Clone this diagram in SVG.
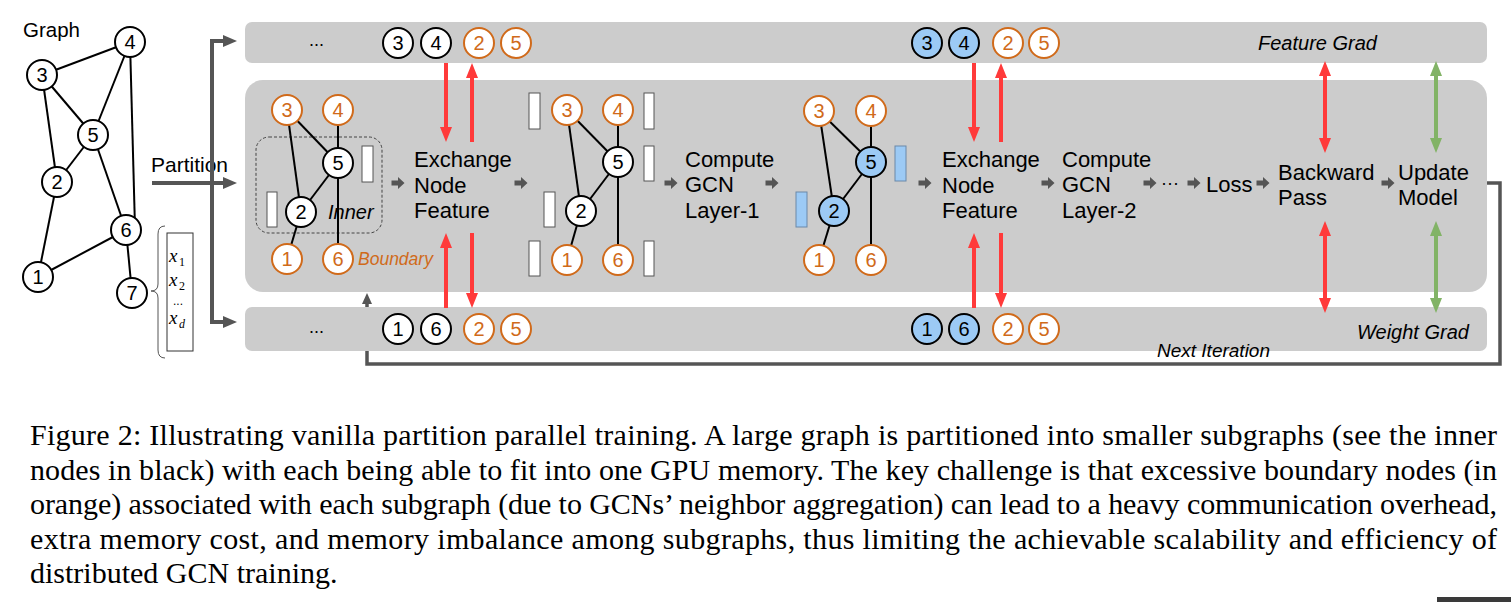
<svg xmlns="http://www.w3.org/2000/svg" width="1511" height="602" viewBox="0 0 1511 602">
<style>
.t{font-family:"Liberation Sans",Arial,sans-serif;fill:#000}
.lbl{font-size:22px}
.it{font-style:italic}
.num{font-family:"Liberation Sans",Arial,sans-serif;font-size:20px;text-anchor:middle}
.nb circle{fill:#fff;stroke:#000;stroke-width:2}
.nb text{fill:#000}
.no circle{fill:#fff;stroke:#d06a1a;stroke-width:2}
.no text{fill:#d06a1a}
.nl circle{fill:#9ccaf5;stroke:#000;stroke-width:2}
.nl text{fill:#000}
.e{stroke:#000;stroke-width:2}
.wr{fill:#fff;stroke:#555;stroke-width:1}
.br{fill:#9ccaf5;stroke:#6a88a8;stroke-width:1}
.bar{fill:#cccccc}
.red{stroke:#ff3a3a;stroke-width:4;fill:none}
.grn{stroke:#82b366;stroke-width:4;fill:none}
.gl{stroke:#555;stroke-width:4;fill:none}
.cap{font-family:"Liberation Serif","Times New Roman",serif;font-size:30px;fill:#000}
.mx{font-family:"Liberation Serif","Times New Roman",serif;font-style:italic;font-size:19px}
.sub{font-family:"Liberation Serif","Times New Roman",serif;font-size:12px}
</style>
<defs>
<marker id="mG" markerUnits="userSpaceOnUse" markerWidth="14" markerHeight="12" refX="4" refY="6" orient="auto"><path d="M0,0 L14,6 L0,12 z" fill="#555"/></marker>
<marker id="mI" markerUnits="userSpaceOnUse" markerWidth="11" markerHeight="10" refX="3" refY="5" orient="auto"><path d="M0,0 L11,5 L0,10 z" fill="#555"/></marker>
<marker id="mR" markerUnits="userSpaceOnUse" markerWidth="15" markerHeight="12" refX="4" refY="6" orient="auto-start-reverse"><path d="M0,0 L15,6 L0,12 z" fill="#ff3a3a"/></marker>
<marker id="mGr" markerUnits="userSpaceOnUse" markerWidth="15" markerHeight="12" refX="4" refY="6" orient="auto-start-reverse"><path d="M0,0 L15,6 L0,12 z" fill="#82b366"/></marker>
<path id="sa" d="M-6.5,-2.5 H0 V-6 L6.5,0 L0,6 V2.5 H-6.5 Z" fill="#555"/>
</defs>

<g id="connectors-loop">
<path d="M1487,183 H1500 V364 H367 V301" stroke="#555" stroke-width="3.5" fill="none" marker-end="url(#mI)"/>
</g>

<g id="feature-grad-bar"><rect class="bar" x="245" y="22" width="1242" height="41" rx="7"/></g>
<g id="main-panel"><rect class="bar" x="245" y="80" width="1242" height="212" rx="18"/></g>
<g id="weight-grad-bar"><rect class="bar" x="245" y="307" width="1242" height="44" rx="7"/></g>

<g id="graph">
<text class="t" x="23" y="37" font-size="20.5">Graph</text>
<g id="graph-edges">
<line class="e" x1="42" y1="75" x2="130" y2="42"/>
<line class="e" x1="42" y1="75" x2="93" y2="135"/>
<line class="e" x1="42" y1="75" x2="57" y2="182"/>
<line class="e" x1="130" y1="42" x2="93" y2="135"/>
<line class="e" x1="130" y1="42" x2="135" y2="228"/>
<line class="e" x1="93" y1="135" x2="57" y2="182"/>
<line class="e" x1="93" y1="135" x2="126" y2="230"/>
<line class="e" x1="57" y1="182" x2="38" y2="277"/>
<line class="e" x1="38" y1="277" x2="126" y2="230"/>
<line class="e" x1="126" y1="230" x2="132" y2="293"/>
</g>
<g id="g-n4" class="nb"><circle cx="130" cy="42" r="15"/><text class="num" x="130" y="49">4</text></g>
<g id="g-n3" class="nb"><circle cx="42" cy="75" r="15"/><text class="num" x="42" y="82">3</text></g>
<g id="g-n5" class="nb"><circle cx="93" cy="135" r="15"/><text class="num" x="93" y="142">5</text></g>
<g id="g-n2" class="nb"><circle cx="57" cy="182" r="15"/><text class="num" x="57" y="189">2</text></g>
<g id="g-n6" class="nb"><circle cx="126" cy="230" r="15"/><text class="num" x="126" y="237">6</text></g>
<g id="g-n1" class="nb"><circle cx="38" cy="277" r="15"/><text class="num" x="38" y="284">1</text></g>
<g id="g-n7" class="nb"><circle cx="132" cy="293" r="15"/><text class="num" x="132" y="300">7</text></g>
</g>

<g id="feature-vector">
<path d="M165,226 Q158,226 158,234 L158,284 Q158,291 151,291 Q158,291 158,298 L158,350 Q158,358 165,358" stroke="#555" stroke-width="1" fill="none"/>
<rect x="167" y="233" width="26" height="118" fill="#fff" stroke="#333" stroke-width="1"/>
<text class="mx" x="169" y="262">x</text><text class="sub" x="179" y="266">1</text>
<text class="mx" x="169" y="286">x</text><text class="sub" x="179" y="290">2</text>
<text class="t" x="173" y="305" font-size="12">...</text>
<text class="mx" x="169" y="324">x</text><text class="sub" x="179" y="328" font-style="italic">d</text>
</g>

<g id="partition">
<text class="t" x="151" y="172" font-size="21">Partition</text>
</g>
<g id="connectors">
<line class="gl" x1="152" y1="183" x2="227" y2="183" marker-end="url(#mG)"/>
<line class="gl" x1="212" y1="39" x2="212" y2="324"/>
<line class="gl" x1="210" y1="41" x2="227" y2="41" marker-end="url(#mG)"/>
<line class="gl" x1="210" y1="322" x2="227" y2="322" marker-end="url(#mG)"/>

<line class="red" x1="446" y1="63" x2="446" y2="131" marker-end="url(#mR)"/>
<line class="red" x1="472" y1="142" x2="472" y2="74" marker-end="url(#mR)"/>
<line class="red" x1="446" y1="308" x2="446" y2="244" marker-end="url(#mR)"/>
<line class="red" x1="472" y1="233" x2="472" y2="297" marker-end="url(#mR)"/>
<line class="red" x1="974" y1="63" x2="974" y2="131" marker-end="url(#mR)"/>
<line class="red" x1="1001" y1="142" x2="1001" y2="74" marker-end="url(#mR)"/>
<line class="red" x1="974" y1="308" x2="974" y2="244" marker-end="url(#mR)"/>
<line class="red" x1="1001" y1="233" x2="1001" y2="297" marker-end="url(#mR)"/>
<line class="red" x1="1325" y1="72" x2="1325" y2="142" marker-start="url(#mR)" marker-end="url(#mR)"/>
<line class="red" x1="1325" y1="232" x2="1325" y2="302" marker-start="url(#mR)" marker-end="url(#mR)"/>
<line class="grn" x1="1436" y1="72" x2="1436" y2="142" marker-start="url(#mGr)" marker-end="url(#mGr)"/>
<line class="grn" x1="1436" y1="232" x2="1436" y2="302" marker-start="url(#mGr)" marker-end="url(#mGr)"/>

<use href="#sa" x="398" y="183"/>
<use href="#sa" x="521" y="183"/>
<use href="#sa" x="671" y="183"/>
<use href="#sa" x="772" y="183"/>
<use href="#sa" x="925" y="183"/>
<use href="#sa" x="1048" y="183"/>
<use href="#sa" x="1150" y="183"/>
<use href="#sa" x="1194" y="183"/>
<use href="#sa" x="1263" y="183"/>
<use href="#sa" x="1388" y="183"/>
</g>

<g id="top-bar-content">
<text class="t" x="309" y="46" font-size="18">...</text>
<g id="t-n3" class="nb"><circle cx="398" cy="43" r="15"/><text class="num" x="398" y="50">3</text></g>
<g id="t-n4" class="nb"><circle cx="436" cy="43" r="15"/><text class="num" x="436" y="50">4</text></g>
<g id="t-n2" class="no"><circle cx="479" cy="43" r="15"/><text class="num" x="479" y="50">2</text></g>
<g id="t-n5" class="no"><circle cx="516" cy="43" r="15"/><text class="num" x="516" y="50">5</text></g>
<g id="t-n3b" class="nl"><circle cx="927" cy="43" r="15"/><text class="num" x="927" y="50">3</text></g>
<g id="t-n4b" class="nl"><circle cx="964" cy="43" r="15"/><text class="num" x="964" y="50">4</text></g>
<g id="t-n2b" class="no"><circle cx="1008" cy="43" r="15"/><text class="num" x="1008" y="50">2</text></g>
<g id="t-n5b" class="no"><circle cx="1044" cy="43" r="15"/><text class="num" x="1044" y="50">5</text></g>
<text class="t it" x="1258" y="50" font-size="20">Feature Grad</text>
</g>

<g id="bottom-bar-content">
<text class="t" x="309" y="333" font-size="18">...</text>
<g id="b-n1" class="nb"><circle cx="398" cy="329" r="15"/><text class="num" x="398" y="336">1</text></g>
<g id="b-n6" class="nb"><circle cx="436" cy="329" r="15"/><text class="num" x="436" y="336">6</text></g>
<g id="b-n2" class="no"><circle cx="479" cy="329" r="15"/><text class="num" x="479" y="336">2</text></g>
<g id="b-n5" class="no"><circle cx="516" cy="329" r="15"/><text class="num" x="516" y="336">5</text></g>
<g id="b-n1b" class="nl"><circle cx="927" cy="329" r="15"/><text class="num" x="927" y="336">1</text></g>
<g id="b-n6b" class="nl"><circle cx="964" cy="329" r="15"/><text class="num" x="964" y="336">6</text></g>
<g id="b-n2b" class="no"><circle cx="1008" cy="329" r="15"/><text class="num" x="1008" y="336">2</text></g>
<g id="b-n5b" class="no"><circle cx="1044" cy="329" r="15"/><text class="num" x="1044" y="336">5</text></g>
<text class="t it" x="1357" y="339" font-size="20">Weight Grad</text>
</g>
<text class="t it" x="1157" y="357" font-size="19">Next Iteration</text>

<g id="subgraph-1">
<rect x="256" y="137" width="126" height="96" rx="13" fill="none" stroke="#444" stroke-width="1" stroke-dasharray="3,2"/>
<line class="e" x1="287" y1="110" x2="301" y2="212"/>
<line class="e" x1="287" y1="110" x2="338" y2="163"/>
<line class="e" x1="338" y1="110" x2="338" y2="163"/>
<line class="e" x1="338" y1="163" x2="301" y2="212"/>
<line class="e" x1="338" y1="163" x2="338" y2="259"/>
<line class="e" x1="301" y1="212" x2="287" y2="259"/>
<g id="s1-n3" class="no"><circle cx="287" cy="110" r="15"/><text class="num" x="287" y="117">3</text></g>
<g id="s1-n4" class="no"><circle cx="338" cy="110" r="15"/><text class="num" x="338" y="117">4</text></g>
<g id="s1-n5" class="nb"><circle cx="338" cy="163" r="15"/><text class="num" x="338" y="170">5</text></g>
<g id="s1-n2" class="nb"><circle cx="301" cy="212" r="15"/><text class="num" x="301" y="219">2</text></g>
<g id="s1-n1" class="no"><circle cx="287" cy="259" r="15"/><text class="num" x="287" y="266">1</text></g>
<g id="s1-n6" class="no"><circle cx="338" cy="259" r="15"/><text class="num" x="338" y="266">6</text></g>
<rect class="wr" x="362" y="146" width="11" height="36"/>
<rect class="wr" x="267" y="192" width="10" height="35"/>
<text class="t it" x="328" y="219" font-size="20">Inner</text>
<text class="t it" x="358" y="265" font-size="17.5" style="fill:#d06a1a">Boundary</text>
</g>

<g id="step-exchange-1">
<text class="t lbl" x="414" y="167">Exchange</text>
<text class="t lbl" x="414" y="193">Node</text>
<text class="t lbl" x="414" y="218">Feature</text>
</g>

<g id="subgraph-2">
<line class="e" x1="567" y1="110" x2="581" y2="211"/>
<line class="e" x1="567" y1="110" x2="618" y2="162"/>
<line class="e" x1="618" y1="110" x2="618" y2="162"/>
<line class="e" x1="618" y1="162" x2="581" y2="211"/>
<line class="e" x1="618" y1="162" x2="618" y2="260"/>
<line class="e" x1="581" y1="211" x2="567" y2="260"/>
<g id="s2-n3" class="no"><circle cx="567" cy="110" r="15"/><text class="num" x="567" y="117">3</text></g>
<g id="s2-n4" class="no"><circle cx="618" cy="110" r="15"/><text class="num" x="618" y="117">4</text></g>
<g id="s2-n5" class="nb"><circle cx="618" cy="162" r="15"/><text class="num" x="618" y="169">5</text></g>
<g id="s2-n2" class="nb"><circle cx="581" cy="211" r="15"/><text class="num" x="581" y="218">2</text></g>
<g id="s2-n1" class="no"><circle cx="567" cy="260" r="15"/><text class="num" x="567" y="267">1</text></g>
<g id="s2-n6" class="no"><circle cx="618" cy="260" r="15"/><text class="num" x="618" y="267">6</text></g>
<rect class="wr" x="529" y="93" width="11" height="36"/>
<rect class="wr" x="644" y="93" width="10" height="36"/>
<rect class="wr" x="644" y="146" width="10" height="35"/>
<rect class="wr" x="544" y="192" width="11" height="35"/>
<rect class="wr" x="529" y="241" width="11" height="35"/>
<rect class="wr" x="644" y="241" width="10" height="35"/>
</g>

<g id="step-gcn-1">
<text class="t lbl" x="685" y="167">Compute</text>
<text class="t lbl" x="685" y="192">GCN</text>
<text class="t lbl" x="685" y="218">Layer-1</text>
</g>

<g id="subgraph-3">
<line class="e" x1="819" y1="111" x2="834" y2="211"/>
<line class="e" x1="819" y1="111" x2="871" y2="162"/>
<line class="e" x1="871" y1="111" x2="871" y2="162"/>
<line class="e" x1="871" y1="162" x2="834" y2="211"/>
<line class="e" x1="871" y1="162" x2="871" y2="260"/>
<line class="e" x1="834" y1="211" x2="819" y2="260"/>
<g id="s3-n3" class="no"><circle cx="819" cy="111" r="15"/><text class="num" x="819" y="118">3</text></g>
<g id="s3-n4" class="no"><circle cx="871" cy="111" r="15"/><text class="num" x="871" y="118">4</text></g>
<g id="s3-n5" class="nl"><circle cx="871" cy="162" r="15"/><text class="num" x="871" y="169">5</text></g>
<g id="s3-n2" class="nl"><circle cx="834" cy="211" r="15"/><text class="num" x="834" y="218">2</text></g>
<g id="s3-n1" class="no"><circle cx="819" cy="260" r="15"/><text class="num" x="819" y="267">1</text></g>
<g id="s3-n6" class="no"><circle cx="871" cy="260" r="15"/><text class="num" x="871" y="267">6</text></g>
<rect class="br" x="895" y="146" width="11" height="35"/>
<rect class="br" x="796" y="192" width="11" height="35"/>
</g>

<g id="step-exchange-2">
<text class="t lbl" x="942" y="167">Exchange</text>
<text class="t lbl" x="942" y="193">Node</text>
<text class="t lbl" x="942" y="218">Feature</text>
</g>
<g id="step-gcn-2">
<text class="t lbl" x="1062" y="167">Compute</text>
<text class="t lbl" x="1062" y="192">GCN</text>
<text class="t lbl" x="1062" y="218">Layer-2</text>
</g>
<g id="step-dots"><text class="t" x="1170" y="189" font-size="18" text-anchor="middle">···</text></g>
<g id="step-loss"><text class="t lbl" x="1206" y="192">Loss</text></g>
<g id="step-backward">
<text class="t lbl" x="1278" y="180">Backward</text>
<text class="t lbl" x="1278" y="205">Pass</text>
</g>
<g id="step-update">
<text class="t lbl" x="1398" y="180">Update</text>
<text class="t lbl" x="1398" y="205">Model</text>
</g>

<g id="caption">
<text class="cap" x="30" y="445" textLength="1467" lengthAdjust="spacing">Figure 2: Illustrating vanilla partition parallel training. A large graph is partitioned into smaller subgraphs (see the inner</text>
<text class="cap" x="30" y="479.5" textLength="1467" lengthAdjust="spacing">nodes in black) with each being able to fit into one GPU memory. The key challenge is that excessive boundary nodes (in</text>
<text class="cap" x="30" y="514" textLength="1467" lengthAdjust="spacing">orange) associated with each subgraph (due to GCNs’ neighbor aggregation) can lead to a heavy communication overhead,</text>
<text class="cap" x="30" y="548.5" textLength="1467" lengthAdjust="spacing">extra memory cost, and memory imbalance among subgraphs, thus limiting the achievable scalability and efficiency of</text>
<text class="cap" x="30" y="583">distributed GCN training.</text>
</g>
<rect x="1437" y="597" width="74" height="5" fill="#3a3a3a"/>
</svg>
